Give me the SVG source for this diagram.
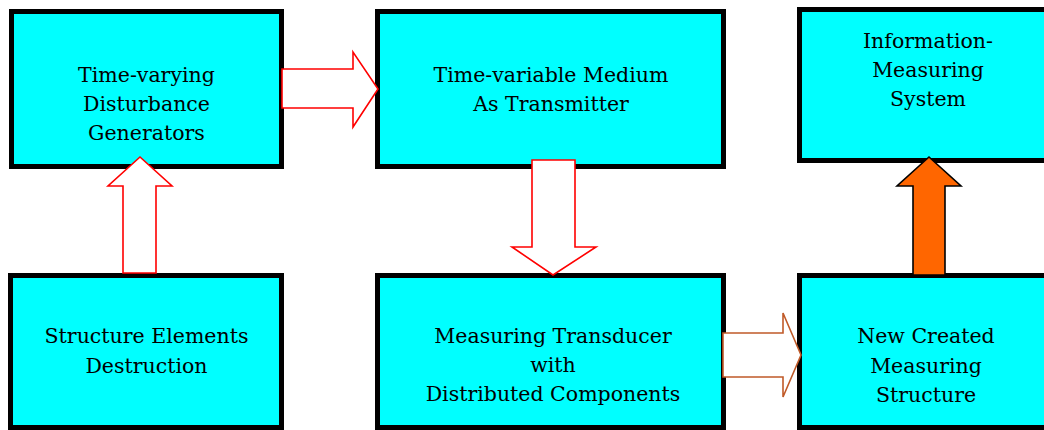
<svg xmlns="http://www.w3.org/2000/svg" width="1044" height="430" viewBox="0 0 1044 430">
  <style>
    .box { fill: #00ffff; stroke: #000000; stroke-width: 5; }
    .label { font-family: "DejaVu Serif", "Liberation Serif", serif; font-size: 20.5px; fill: #000000; text-anchor: middle; }
    .hollow-red { fill: #ffffff; stroke: #ff0000; stroke-width: 1.6; stroke-linejoin: miter; }
    .hollow-brown { fill: #ffffff; stroke: #c05a28; stroke-width: 1.6; stroke-linejoin: miter; }
    .solid-orange { fill: #ff6600; stroke: #000000; stroke-width: 1.6; stroke-linejoin: miter; }
  </style>
  <rect width="1044" height="430" fill="#ffffff"/>

  <g id="node-disturbance-generators">
    <rect class="box" x="11.5" y="11.5" width="270" height="155"/>
    <text class="label" x="146.5" y="82">Time-varying</text>
    <text class="label" x="146.5" y="111">Disturbance</text>
    <text class="label" x="146.5" y="140">Generators</text>
  </g>

  <g id="node-medium-transmitter">
    <rect class="box" x="377.5" y="11.5" width="346" height="155"/>
    <text class="label" x="551" y="82">Time-variable Medium</text>
    <text class="label" x="551" y="111">As Transmitter</text>
  </g>

  <g id="node-info-measuring-system">
    <rect class="box" x="799.5" y="9.5" width="257" height="151"/>
    <text class="label" x="928" y="48">Information-</text>
    <text class="label" x="928" y="77">Measuring</text>
    <text class="label" x="928" y="106">System</text>
  </g>

  <g id="node-elements-destruction">
    <rect class="box" x="10.5" y="275.5" width="271" height="152"/>
    <text class="label" x="146.5" y="343">Structure Elements</text>
    <text class="label" x="146.5" y="373">Destruction</text>
  </g>

  <g id="node-measuring-transducer">
    <rect class="box" x="377.5" y="275.5" width="346" height="152"/>
    <text class="label" x="553" y="343">Measuring Transducer</text>
    <text class="label" x="553" y="372">with</text>
    <text class="label" x="553" y="401">Distributed Components</text>
  </g>

  <g id="node-new-measuring-structure">
    <rect class="box" x="799.5" y="275.5" width="257" height="152"/>
    <text class="label" x="926" y="343">New Created</text>
    <text class="label" x="926" y="373">Measuring</text>
    <text class="label" x="926" y="402">Structure</text>
  </g>

  <g id="connectors">
    <!-- generators -> medium -->
    <polygon class="hollow-red" points="282,69 353,69 353,52 378,89 353,127 353,108 282,108"/>
    <!-- medium -> transducer -->
    <polygon class="hollow-red" points="532,160 575,160 575,247 596,247 553,275 512,247 532,247"/>
    <!-- destruction -> generators -->
    <polygon class="hollow-red" points="123,273 156,273 156,186 172,186 140,157 108,186 123,186"/>
    <!-- transducer -> new structure -->
    <polygon class="hollow-brown" points="723,333 783,333 783,313 801,355 783,397 783,377 723,377"/>
    <!-- new structure -> information-measuring system -->
    <polygon class="solid-orange" points="913,275 945,275 945,186 961,186 929,157 897,186 913,186"/>
  </g>
</svg>
